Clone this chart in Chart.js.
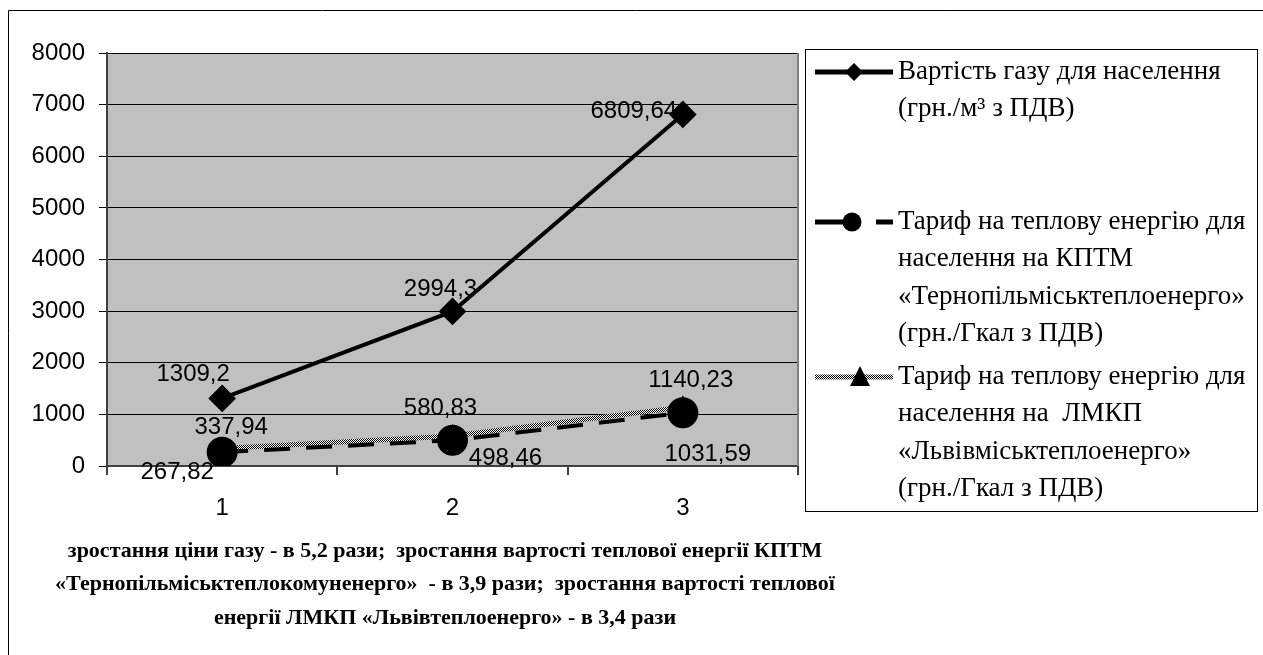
<!DOCTYPE html>
<html>
<head>
<meta charset="utf-8">
<script src="https://cdn.jsdelivr.net/npm/chart.js@4/dist/chart.umd.min.js"></script>
<style>
  html, body { margin: 0; padding: 0; background: #fff; }
  #wrap { position: relative; width: 1263px; height: 655px; }
</style>
</head>
<body>
<div id="wrap"><canvas id="chart" width="1263" height="655"></canvas></div>
<script>
// data
const categories = ['1', '2', '3'];
const gasPrice = [1309.2, 2994.3, 6809.64];
const ternopilTariff = [267.82, 498.46, 1031.59];
const lvivTariff = [337.94, 580.83, 1140.23];
const yMin = 0;
const yMax = 8000;
const yStep = 1000;

const legendLabels = [
  ['Вартість газу для населення', '(грн./м³ з ПДВ)'],
  ['Тариф на теплову енергію для', 'населення на КПТМ', '«Тернопільміськтеплоенерго»', '(грн./Гкал з ПДВ)'],
  ['Тариф на теплову енергію для', 'населення на  ЛМКП', '«Львівміськтеплоенерго»', '(грн./Гкал з ПДВ)'],
];
const axisNote = [
  'зростання ціни газу - в 5,2 рази;  зростання вартості теплової енергії КПТМ',
  '«Тернопільміськтеплокомуненерго»  - в 3,9 рази;  зростання вартості теплової',
  'енергії ЛМКП «Львівтеплоенерго» - в 3,4 рази',
];

// where each value label sits relative to its point (px)
const labelShift = [
  [[-29, -24], [-12, -22], [-49, -3]],
  [[-45, 20], [53, 18], [25, 42]],
  [[9, -21], [-12, -28], [8, -27]],
];

const sansFont = '"Liberation Sans", Arial, sans-serif';
const serifFont = '"Liberation Serif", "Times New Roman", serif';

// grey hatched stroke for the Lviv series
function checker() {
  const c = document.createElement('canvas');
  c.width = 2; c.height = 2;
  const g = c.getContext('2d');
  g.fillStyle = '#fff'; g.fillRect(0, 0, 2, 2);
  g.fillStyle = '#000'; g.fillRect(0, 0, 1, 1); g.fillRect(1, 1, 1, 1);
  return g.createPattern(c, 'repeat');
}
const hatch = checker();

const fmt = v => String(v).replace('.', ',');

const frame = {
  id: 'frame',
  beforeDraw(chart) {
    const { ctx, chartArea: a } = chart;
    ctx.save();
    ctx.fillStyle = '#fff';
    ctx.fillRect(0, 0, chart.width, chart.height);
    ctx.strokeStyle = '#000';
    ctx.lineWidth = 1;
    ctx.beginPath();
    ctx.moveTo(8.5, chart.height + 5);
    ctx.lineTo(8.5, 10.5);
    ctx.lineTo(chart.width + 5, 10.5);
    ctx.stroke();
    ctx.fillStyle = '#c0c0c0';
    ctx.fillRect(a.left, a.top, a.right - a.left, a.bottom - a.top);
    ctx.restore();
  },
  beforeDatasetsDraw(chart) {
    const { ctx, chartArea: a } = chart;
    ctx.save();
    ctx.strokeStyle = '#808080';
    ctx.lineWidth = 2;
    ctx.beginPath();
    ctx.moveTo(a.right, a.top);
    ctx.lineTo(a.right, a.bottom);
    ctx.stroke();
    ctx.restore();
  },
  afterDatasetsDraw(chart) {
    const ctx = chart.ctx;
    ctx.save();
    ctx.font = '24px ' + sansFont;
    ctx.fillStyle = '#000';
    ctx.textAlign = 'center';
    ctx.textBaseline = 'middle';
    chart.data.datasets.forEach((ds, i) => {
      chart.getDatasetMeta(i).data.forEach((pt, j) => {
        const [dx, dy] = labelShift[i][j];
        ctx.fillText(fmt(ds.data[j]), pt.x + dx, pt.y + dy);
      });
    });
    ctx.restore();
  },
  afterDraw(chart) {
    const ctx = chart.ctx;
    ctx.save();
    // legend box
    ctx.strokeStyle = '#000';
    ctx.lineWidth = 1;
    ctx.strokeRect(805.5, 49.5, 452, 462);
    const firstLine = [72, 222, 377];
    const lineH = 37.3;
    chart.data.datasets.forEach((ds, i) => {
      const y = firstLine[i];
      ctx.lineWidth = 5;
      ctx.strokeStyle = ds.borderColor;
      ctx.beginPath();
      if (i === 1) {
        ctx.moveTo(815, y); ctx.lineTo(848, y);
        ctx.moveTo(876, y); ctx.lineTo(893, y);
      } else {
        ctx.moveTo(815, y); ctx.lineTo(893, y);
      }
      ctx.stroke();
      ctx.fillStyle = '#000';
      ctx.beginPath();
      if (ds.pointStyle === 'rectRot') {
        ctx.moveTo(854, y - 9); ctx.lineTo(863, y); ctx.lineTo(854, y + 9); ctx.lineTo(845, y);
      } else if (ds.pointStyle === 'circle') {
        ctx.arc(852, y, 9.5, 0, Math.PI * 2);
      } else {
        ctx.moveTo(860, y - 11); ctx.lineTo(870, y + 9); ctx.lineTo(850, y + 9);
      }
      ctx.closePath();
      ctx.fill();
      ctx.font = '27px ' + serifFont;
      ctx.textAlign = 'left';
      ctx.textBaseline = 'middle';
      legendLabels[i].forEach((t, k) => ctx.fillText(t, 898, y + k * lineH));
    });
    // note under the axis
    ctx.font = 'bold 22px ' + serifFont;
    ctx.textAlign = 'center';
    axisNote.forEach((t, k) => ctx.fillText(t, 445, 551 + k * 33.5));
    ctx.restore();
  }
};

new Chart(document.getElementById('chart'), {
  type: 'line',
  data: {
    labels: categories,
    datasets: [
      {
        label: legendLabels[0].join(' '),
        data: gasPrice,
        borderColor: '#000',
        borderWidth: 4,
        pointStyle: 'rectRot',
        pointRadius: 11,
        pointBackgroundColor: '#000',
        pointBorderColor: '#000',
        order: 2,
      },
      {
        label: legendLabels[1].join(' '),
        data: ternopilTariff,
        borderColor: '#000',
        borderWidth: 4,
        borderDash: [26, 16],
        pointStyle: 'circle',
        pointRadius: 13.5,
        pointBackgroundColor: '#000',
        pointBorderColor: '#000',
        order: 0,
      },
      {
        label: legendLabels[2].join(' '),
        data: lvivTariff,
        borderColor: hatch,
        borderWidth: 5,
        pointStyle: 'triangle',
        pointRadius: 7,
        pointBackgroundColor: '#000',
        pointBorderColor: '#000',
        order: 1,
      },
    ],
  },
  options: {
    responsive: false,
    animation: false,
    layout: { padding: { left: 8, top: 53, right: 465, bottom: 0 } },
    plugins: { legend: { display: false }, tooltip: { enabled: false } },
    scales: {
      x: {
        offset: true,
        afterFit: s => { s.height = 189; },
        border: { color: '#404040', width: 2 },
        grid: { offset: true, drawOnChartArea: false, tickLength: 9, color: '#404040', lineWidth: 2 },
        ticks: { color: '#000', padding: 19, font: { family: sansFont, size: 24 } },
      },
      y: {
        min: yMin,
        max: yMax,
        afterFit: s => { s.width = 99; },
        border: { color: '#404040', width: 2 },
        grid: { color: '#000', lineWidth: 1, tickLength: 8 },
        ticks: { stepSize: yStep, color: '#000', padding: 14, font: { family: sansFont, size: 24 }, callback: v => String(v) },
      },
    },
  },
  plugins: [frame],
});
</script>
</body>
</html>
